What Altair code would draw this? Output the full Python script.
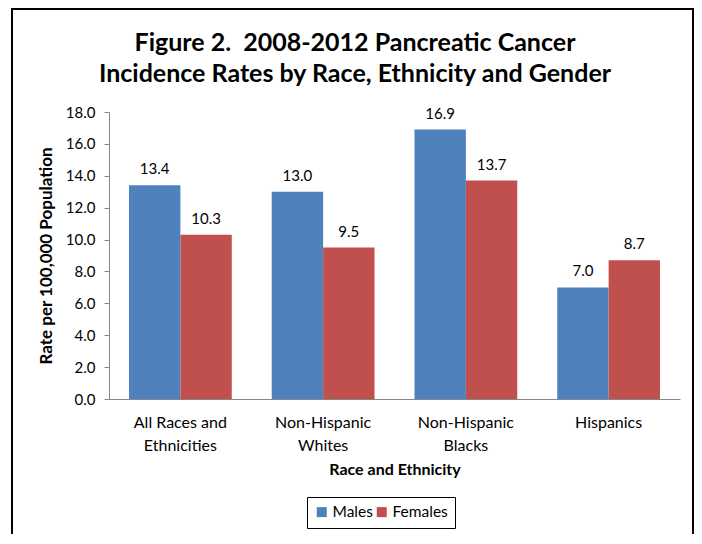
import altair as alt
import pandas as pd

categories = ["All Races and|Ethnicities", "Non-Hispanic|Whites", "Non-Hispanic|Blacks", "Hispanics"]
genders = ["Males", "Females"]
males = [13.4, 13.0, 16.9, 7.0]
females = [10.3, 9.5, 13.7, 8.7]
colors = ["#4F81BD", "#C0504D"]
title_lines = ["Figure 2.\u00a0 2008-2012 Pancreatic Cancer",
               "Incidence Rates by Race, Ethnicity and Gender"]

rows = []
for c, m, f in zip(categories, males, females):
    rows.append({"cat": c, "gender": "Males", "rate": m})
    rows.append({"cat": c, "gender": "Females", "rate": f})
df = pd.DataFrame(rows)

FONT = "Lato"

base = alt.Chart(df).encode(
    x=alt.X("cat:N", sort=categories,
            scale=alt.Scale(paddingInner=0.28, paddingOuter=0.14),
            axis=alt.Axis(title="Race and Ethnicity", labelAngle=0,
                          labelExpr="split(datum.label, '|')",
                          labelFont=FONT, labelFontSize=16, labelColor="#000",
                          labelLineHeight=23, labelPadding=15, labelBaseline="top",
                          ticks=False, domainColor="#868686",
                          titleFont=FONT, titleFontSize=16, titleFontWeight="bold",
                          titleColor="#000", titlePadding=8)),
    xOffset=alt.XOffset("gender:N", sort=genders),
    y=alt.Y("rate:Q", scale=alt.Scale(domain=[0, 18]),
            axis=alt.Axis(title="Rate per 100,000 Population", values=list(range(0, 19, 2)),
                          format=".1f", grid=False, labelFont=FONT, labelFontSize=15,
                          labelColor="#000", tickColor="#868686", domainColor="#868686",
                          tickSize=5, labelPadding=9, labelOverlap=False,
                          titleFont=FONT, titleFontSize=17, titleFontWeight="bold",
                          titleColor="#000", titlePadding=10)),
)

bars = base.mark_bar().encode(
    color=alt.Color("gender:N", sort=genders,
                    scale=alt.Scale(domain=genders, range=colors),
                    legend=alt.Legend(title=None, orient="none", direction="horizontal",
                                      legendX=198, legendY=385, strokeColor="#000",
                                      padding=7, symbolType="square", symbolSize=100,
                                      symbolStrokeWidth=0, labelFont=FONT,
                                      labelFontSize=15.5, labelColor="#000",
                                      columnPadding=1, labelOffset=3)),
)

labels = base.mark_text(baseline="bottom", dy=-8, font=FONT, fontSize=15, color="#000").encode(
    text=alt.Text("rate:Q", format=".1f"),
)

title_df = pd.DataFrame({"line": title_lines, "row": [0, 1]})
title_l1 = alt.Chart(title_df).transform_filter("datum.row == 0").mark_text(
    font=FONT, fontSize=25, fontWeight="bold", color="#000", align="center", baseline="alphabetic"
).encode(text="line:N", x=alt.value(246), y=alt.value(-61))
title_l2 = alt.Chart(title_df).transform_filter("datum.row == 1").mark_text(
    font=FONT, fontSize=25, fontWeight="bold", color="#000", align="center", baseline="alphabetic"
).encode(text="line:N", x=alt.value(246), y=alt.value(-30))

frame = alt.Chart(pd.DataFrame({"a": [0]})).mark_rect(
    fill="transparent", stroke="#000", strokeWidth=2
).encode(x=alt.value(-97), x2=alt.value(584), y=alt.value(-103), y2=alt.value(440))

chart = alt.layer(frame, bars, labels, title_l1, title_l2).properties(
    width=571, height=287,
    autosize=alt.AutoSizeParams(type="none"),
    padding={"left": 101, "top": 104, "right": 14, "bottom": 135},
).configure_view(strokeWidth=0)

chart.save("out.html", embed_options={"renderer": "svg", "actions": False})
